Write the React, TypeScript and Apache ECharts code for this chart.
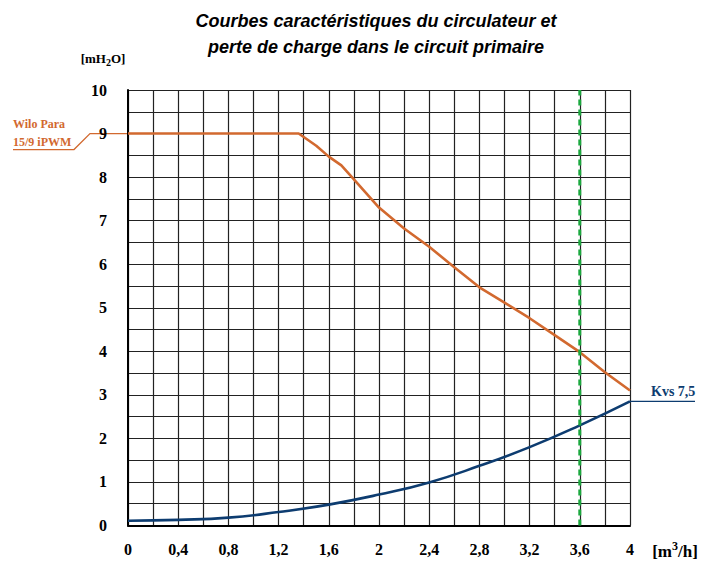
import React, { useEffect, useRef } from "react";
import * as echarts from "echarts";

const pumpCurve: [number, number][] = [
  [0, 9], [1.36, 9], [1.5, 8.72], [1.6, 8.47], [1.7, 8.27], [1.8, 7.95],
  [2.0, 7.3], [2.2, 6.82], [2.4, 6.4], [2.6, 5.93], [2.8, 5.47],
  [3.0, 5.12], [3.2, 4.76], [3.4, 4.37], [3.6, 3.98], [3.8, 3.52], [4.0, 3.1],
];
const kvsCurve: [number, number][] = [
  [0, 0.11], [0.4, 0.13], [0.8, 0.18], [1.2, 0.31], [1.6, 0.48], [2.0, 0.71],
  [2.4, 0.99], [2.8, 1.37], [3.2, 1.8], [3.6, 2.3], [4.0, 2.85],
];
const operatingFlow = 3.6;
const titleLines = ["Courbes caractéristiques du circulateur et", "perte de charge dans le circuit primaire"];
const pumpLabel = ["Wilo Para", "15/9 iPWM"];
const kvsLabel = "Kvs 7,5";

const ORANGE = "#D2692F";
const BLUE = "#0D3C70";
const GREEN = "#1BA83E";
const SERIF = "'Liberation Serif', 'DejaVu Serif', serif";

export default function App() {
  const ref = useRef<HTMLDivElement>(null);
  useEffect(() => {
    if (!ref.current) return;
    const chart = echarts.init(ref.current, null, { renderer: "svg" });
    const fmt = (v: number) => String(Math.round(v * 10) / 10).replace(".", ",");
    chart.setOption({
      animation: false,
      backgroundColor: "#fff",
      grid: { left: 128, right: 73, top: 90, bottom: 37.5, containLabel: false },
      xAxis: {
        type: "value", min: 0, max: 4, interval: 0.2,
        axisLine: { show: true, lineStyle: { color: "#000", width: 2 } },
        axisTick: { show: false },
        splitLine: { show: true, lineStyle: { color: "#222", width: 1.2 } },
        axisLabel: {
          margin: 16, color: "#000", fontFamily: SERIF, fontWeight: "bold", fontSize: 16,
          showMaxLabel: true, showMinLabel: true,
          formatter: (v: number) => (Math.round(v * 10) % 4 === 0 ? fmt(v) : ""),
        },
      },
      yAxis: {
        type: "value", min: 0, max: 10, interval: 0.5,
        axisLine: { show: true, lineStyle: { color: "#000", width: 2 } },
        axisTick: { show: false },
        splitLine: { show: true, lineStyle: { color: "#222", width: 1.2 } },
        axisLabel: {
          margin: 21, color: "#000", fontFamily: SERIF, fontWeight: "bold", fontSize: 16,
          formatter: (v: number) => (Math.abs(v - Math.round(v)) < 1e-6 ? String(Math.round(v)) : ""),
        },
      },
      series: [
        {
          type: "line", data: pumpCurve, showSymbol: false, symbol: "none",
          lineStyle: { color: ORANGE, width: 2.6 }, z: 3,
        },
        {
          type: "line", data: kvsCurve, showSymbol: false, symbol: "none", smooth: true,
          lineStyle: { color: BLUE, width: 2.6 }, z: 3,
        },
        {
          type: "line", data: [[operatingFlow, 0], [operatingFlow, 10]], showSymbol: false, symbol: "none",
          lineStyle: { color: GREEN, width: 3, type: [6, 4] }, z: 4,
        },
      ],
    });
    const p9 = chart.convertToPixel({ gridIndex: 0 }, [0, pumpCurve[0][1]]) as number[];
    const kEnd = chart.convertToPixel({ gridIndex: 0 }, kvsCurve[kvsCurve.length - 1]) as number[];
    chart.setOption({
      graphic: [
        {
          type: "text", x: 376, y: 8,
          style: { text: titleLines.join("\n"), align: "center", fill: "#000", fontFamily: "'Liberation Sans', Arial, sans-serif", fontStyle: "italic", fontWeight: "bold", fontSize: 18, lineHeight: 26 },
        },
        {
          type: "text", x: 103, y: 58,
          style: {
            text: "{a|[mH}{s|2}{a|O]}", align: "center", verticalAlign: "middle",
            rich: {
              a: { fontFamily: SERIF, fontWeight: "bold", fontSize: 13, fill: "#000" },
              s: { fontFamily: SERIF, fontWeight: "bold", fontSize: 10, fill: "#000", padding: [8, 0, 0, 0] },
            },
          },
        },
        {
          type: "text", x: 675, y: 551,
          style: {
            text: "{a|[m}{s|3}{a|/h]}", align: "center", verticalAlign: "middle",
            rich: {
              a: { fontFamily: SERIF, fontWeight: "bold", fontSize: 17, fill: "#000" },
              s: { fontFamily: SERIF, fontWeight: "bold", fontSize: 12, fill: "#000", padding: [0, 0, 10, 0] },
            },
          },
        },
        {
          type: "polyline",
          shape: { points: [[p9[0], p9[1]], [90, p9[1]], [74, p9[1] + 16], [13, p9[1] + 16]] },
          style: { stroke: ORANGE, lineWidth: 1.3, fill: null },
        },
        {
          type: "text", x: 13, y: 115,
          style: { text: pumpLabel.join("\n"), fill: ORANGE, fontFamily: SERIF, fontWeight: "bold", fontSize: 12, lineHeight: 18 },
        },
        {
          type: "line",
          shape: { x1: kEnd[0], y1: kEnd[1], x2: 695, y2: kEnd[1] },
          style: { stroke: BLUE, lineWidth: 1.3 },
        },
        {
          type: "text", x: 651, y: 391,
          style: { text: kvsLabel, fill: BLUE, fontFamily: SERIF, fontWeight: "bold", fontSize: 14, verticalAlign: "middle" },
        },
      ],
    });
    return () => chart.dispose();
  }, []);
  return <div ref={ref} style={{ position: "fixed", left: 0, top: 0, width: 703, height: 563 }} />;
}
